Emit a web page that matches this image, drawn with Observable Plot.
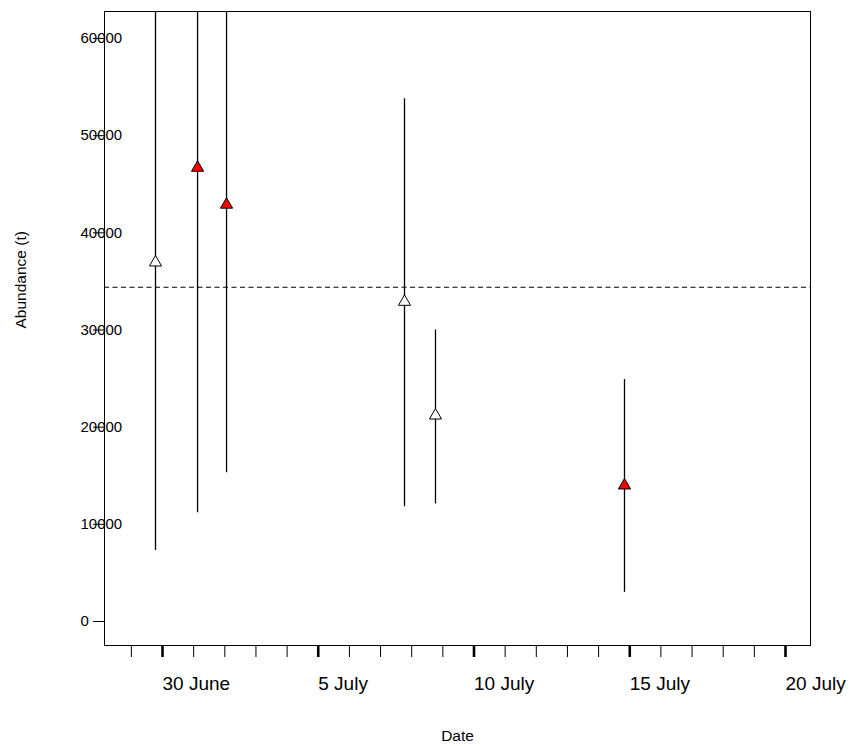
<!DOCTYPE html>
<html><head><meta charset="utf-8">
<script src="https://cdn.jsdelivr.net/npm/d3@7"></script>
<script src="https://cdn.jsdelivr.net/npm/@observablehq/plot@0.6"></script>
<style>body{margin:0;background:#fff}</style>
</head><body><div id="chart"></div>
<script>
// Survey dates (UTC), estimates and confidence limits
const dates = ["2000-06-29T18:36Z","2000-07-01T03:00Z","2000-07-02T01:20Z","2000-07-07T18:27Z","2000-07-08T18:20Z","2000-07-14T19:57Z"];
const estimates = [36950, 46700, 42900, 32900, 21200, 14000];
const lower = [7300, 11200, 15300, 11800, 12100, 3000];
const upper = [80000, 80000, 80000, 53800, 30000, 24900];
const groups = ["open","filled","filled","open","open","filled"];
const meanLevel = 34400;

const yTicks = [0, 10000, 20000, 30000, 40000, 50000, 60000];
const majorTickDates = ["2000-06-30Z","2000-07-05Z","2000-07-10Z","2000-07-15Z","2000-07-20Z"];
const majorTickLabels = ["30 June","5 July","10 July","15 July","20 July"];
const xDomain = ["2000-06-28T03:18Z","2000-07-20T19:16Z"];
const yDomain = [-2470, 62780];

const data = dates.map((d, i) => ({date: new Date(d), est: estimates[i], lo: lower[i], hi: upper[i], grp: groups[i]}));
const majors = majorTickDates.map(d => new Date(d));
const labelByTime = new Map(majors.map((d, i) => [+d, majorTickLabels[i]]));

const chart = Plot.plot({
  width: 850, height: 746,
  marginTop: 11, marginBottom: 101, marginLeft: 104, marginRight: 40,
  style: {fontFamily: "'Liberation Sans', Arial, sans-serif", fontSize: "15px", background: "white", color: "black"},
  x: {type: "utc", domain: xDomain.map(d => new Date(d))},
  y: {domain: yDomain},
  color: {domain: ["open","filled"], range: ["white","red"]},
  marks: [
    Plot.frame({stroke: "black", strokeWidth: 1}),
    Plot.axisY({ticks: yTicks, tickSize: 11, tickPadding: 13, textAnchor: "start", fontSize: 15, tickFormat: d => String(d), label: null}),
    Plot.axisX({ticks: "day", tickSize: 12, tickFormat: () => "", label: null}),
    Plot.axisX({ticks: majors, tickSize: 12, strokeWidth: 2.6, tickPadding: 19, textAnchor: "start", fontSize: 19, tickFormat: d => labelByTime.get(+d), label: null}),
    Plot.ruleY([meanLevel], {y: d => d, stroke: "black", strokeWidth: 1, strokeDasharray: "5,3.5"}),
    Plot.ruleX(data, {x: "date", y1: "lo", y2: "hi", clip: true, stroke: "black", strokeWidth: 1.3}),
    Plot.dot(data, {x: "date", y: "est", symbol: "triangle", r: 4.5, fill: "grp", stroke: "black", strokeWidth: 1}),
    Plot.text(["Date"], {frameAnchor: "bottom", dx: 0, dy: 95, lineAnchor: "bottom", fontSize: 15.5, text: d => d}),
    Plot.text(["Abundance (t)"], {frameAnchor: "left", dx: -83, dy: 0, rotate: -90, fontSize: 15.5, text: d => d})
  ]
});
document.getElementById("chart").append(chart);
</script>
</body></html>
